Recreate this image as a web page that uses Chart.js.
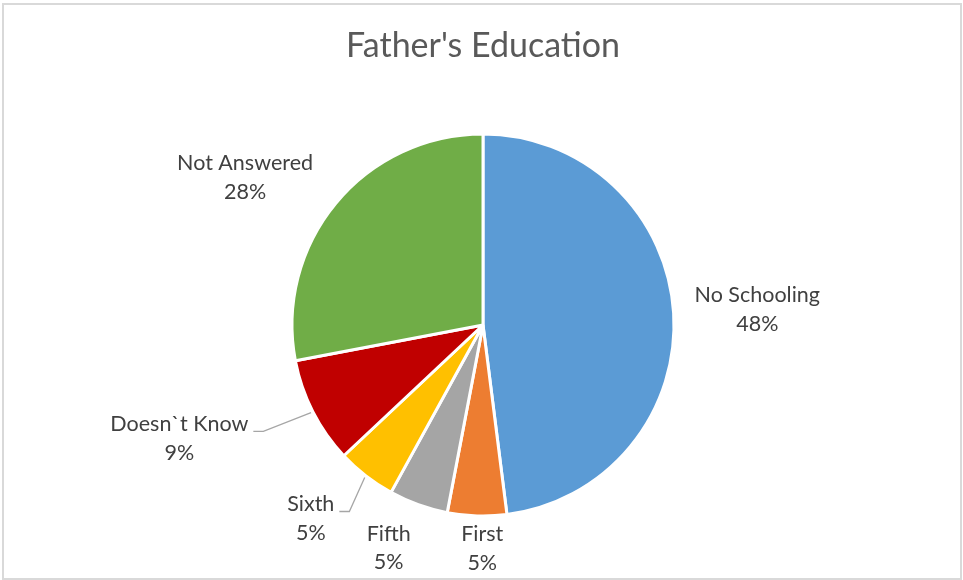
<!DOCTYPE html>
<html>
<head>
<meta charset="utf-8">
<title>Father's Education</title>
<script src="https://cdn.jsdelivr.net/npm/chart.js@4.4.1/dist/chart.umd.min.js"></script>
<style>
  html, body { margin: 0; padding: 0; background: #fff; }
  .frame { position: absolute; left: 2px; top: 3px; width: 960px; height: 577px; box-sizing: border-box; border: 2px solid #d9d9d9; }
  #educationChart { position: absolute; left: 0; top: 0; }
</style>
</head>
<body>
<div class="frame"></div>
<canvas id="educationChart" width="963" height="580"></canvas>
<script>
const categories = ['No Schooling', 'First', 'Fifth', 'Sixth', 'Doesn`t Know', 'Not Answered'];
const shares = [48, 5, 5, 5, 9, 28];
const sliceColors = ['#5b9bd5', '#ed7d31', '#a5a5a5', '#ffc000', '#c00000', '#70ad47'];

// hand adjustments for the outside labels [dx, dy]; dragged ones get a leader line
const labelNudge = [[7, 1], [7, -10], [-10, 1.5], [-23, 3], [-52, -5.5], [-12, 11.5]];
const leaderLines = [false, false, false, true, true, false];

// Category name + percentage drawn outside each slice
const outsideLabels = {
    id: 'outsideLabels',
    afterDatasetsDraw(chart) {
        const ctx = chart.ctx;
        const meta = chart.getDatasetMeta(0);
        const total = shares.reduce((a, b) => a + b, 0);
        const lineGap = 28.5;
        const clamp = v => Math.max(-1, Math.min(1, v * 2));

        ctx.save();
        ctx.font = '21.5px Lato';
        ctx.fillStyle = '#404040';
        ctx.textAlign = 'center';
        ctx.textBaseline = 'alphabetic';

        meta.data.forEach((arc, i) => {
            const p = arc.getProps(['x', 'y', 'startAngle', 'endAngle', 'outerRadius'], true);
            const mid = (p.startAngle + p.endAngle) / 2;
            const dx = Math.cos(mid);
            const dy = Math.sin(mid);
            const lines = [categories[i], Math.round(shares[i] / total * 100) + '%'];
            const w = Math.max(...lines.map(t => ctx.measureText(t).width));
            const h = lineGap * 2;

            const ax = p.x + dx * (p.outerRadius + 14);
            const ay = p.y + dy * (p.outerRadius + 14);
            const cx = ax + clamp(dx) * w / 2 + labelNudge[i][0];
            const cy = ay + clamp(dy) * h / 2 + labelNudge[i][1];

            if (leaderLines[i]) {
                const side = dx < 0 ? 1 : -1;
                const tailX = cx + side * (w / 2 + 5);
                const tailY = cy - 7;
                ctx.beginPath();
                ctx.moveTo(p.x + dx * (p.outerRadius + 2), p.y + dy * (p.outerRadius + 2));
                ctx.lineTo(tailX + side * 10, tailY);
                ctx.lineTo(tailX, tailY);
                ctx.strokeStyle = '#a6a6a6';
                ctx.lineWidth = 1.3;
                ctx.stroke();
            }

            ctx.fillText(lines[0], cx, cy - 7.25);
            ctx.fillText(lines[1], cx, cy - 7.25 + lineGap);
        });
        ctx.restore();
    }
};

document.addEventListener('DOMContentLoaded', () => {
    const ctx = document.getElementById('educationChart').getContext('2d');
    new Chart(ctx, {
        type: 'pie',
        data: {
            labels: categories,
            datasets: [{
                data: shares,
                backgroundColor: sliceColors,
                borderColor: '#ffffff',
                borderWidth: 3
            }]
        },
        options: {
            responsive: false,
            devicePixelRatio: 1,
            animation: false,
            radius: 191,
            layout: { padding: { left: 3 } },
            plugins: {
                legend: { display: false },
                tooltip: { enabled: false },
                title: {
                    display: true,
                    text: "Father's Education",
                    color: '#595959',
                    font: { family: 'Lato', size: 34, weight: 'normal' },
                    padding: { top: 25.6, bottom: 3.6 }
                }
            }
        },
        plugins: [outsideLabels]
    });
});
</script>
</body>
</html>
